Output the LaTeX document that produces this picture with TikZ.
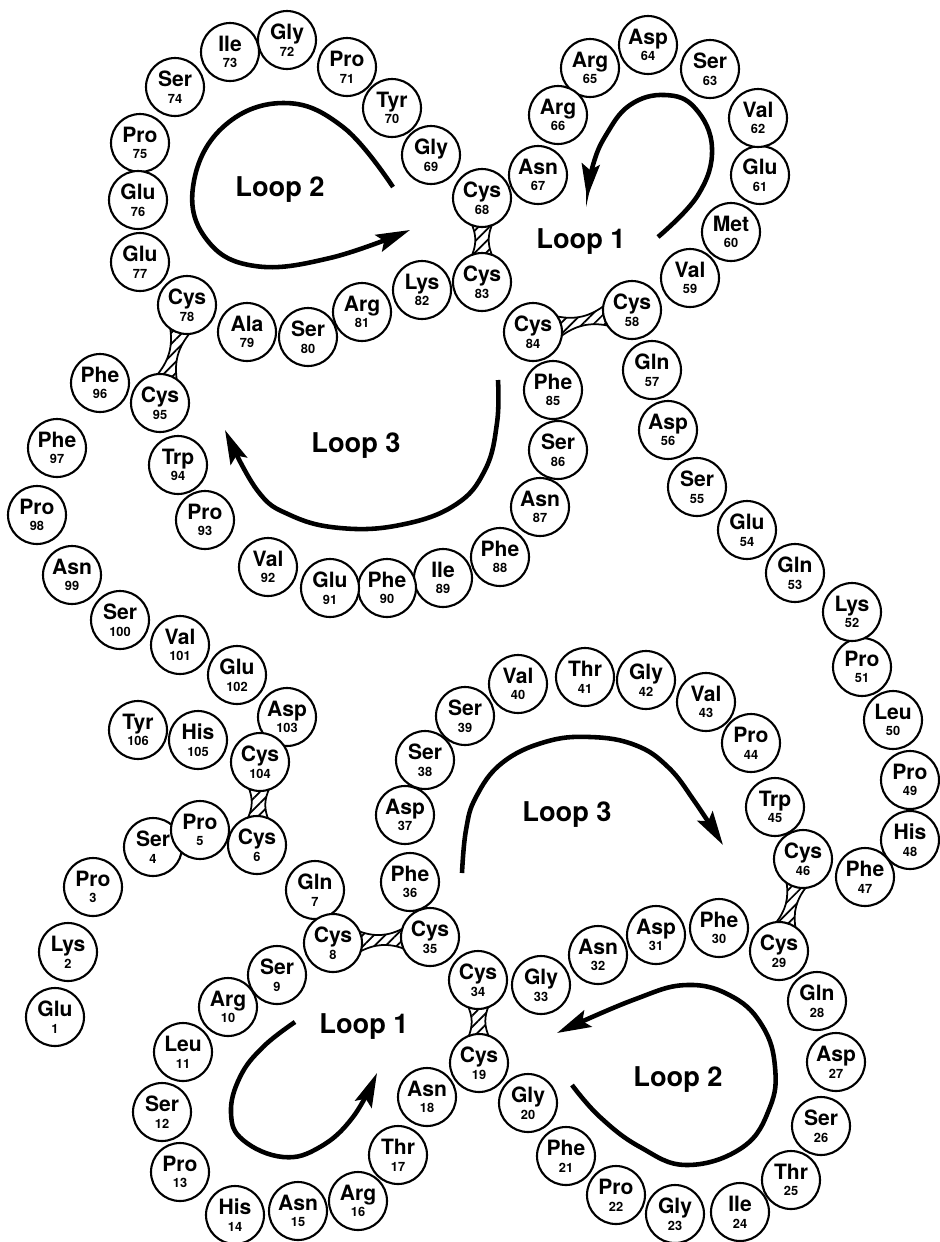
\documentclass[tikz,border=0pt]{standalone}
\usepackage{fontspec}
\setmainfont{TeX Gyre Heros}
\usetikzlibrary{calc,arrows.meta,patterns.meta}
\pgfdeclarelayer{background}
\pgfsetlayers{background,main}

%residue text: name over number
\newcommand{\rn}[2]{#1\\{\fontsize{7.3}{9.5}\selectfont #2}}
%disulfide bridge between two residues
\newcommand{\ssbond}[2]{%
  \draw[bond] ($(#1)!0.54cm!24:(#2)$) to[bend right=25] ($(#2)!0.54cm!-24:(#1)$)
    -- ($(#2)!0.54cm!24:(#1)$) to[bend right=25] ($(#1)!0.54cm!-24:(#2)$) -- cycle;}

\begin{document}
\begin{tikzpicture}
[x=0.02cm,y=-0.02cm,
res/.style={draw,circle,line width=1.2pt,fill=white,minimum size=1.16cm,inner sep=0pt,align=center,font=\bfseries\fontsize{12}{9.5}\selectfont},
bond/.style={line width=1pt,pattern={Lines[angle=45,distance=4.5pt,line width=1pt]}},
looparrow/.style={line width=2.6pt,-{Stealth[length=0.68cm,width=0.36cm,inset=0.12cm]}},
looplabel/.style={font=\bfseries\fontsize{15.5}{15.5}\selectfont},]

\useasboundingbox (0,0) rectangle (940,1242);

%Residues 1-35
\node (r1) at (55,1017)[res] {\rn{Glu}{1}};
\node (r2) at (68,952)[res] {\rn{Lys}{2}};
\node (r3) at (93,887)[res] {\rn{Pro}{3}};
\node (r4) at (153,847)[res] {\rn{Ser}{4}};
\node (r5) at (200,830)[res] {\rn{Pro}{5}};
\node (r6) at (257,845)[res] {\rn{Cys}{6}};
\node (r7) at (315,890)[res] {\rn{Gln}{7}};
\node (r8) at (333,943)[res] {\rn{Cys}{8}};
\node (r9) at (277,975)[res] {\rn{Ser}{9}};
\node (r10) at (228,1007)[res] {\rn{Arg}{10}};
\node (r11) at (183,1052)[res] {\rn{Leu}{11}};
\node (r12) at (162,1112)[res] {\rn{Ser}{12}};
\node (r13) at (180,1172)[res] {\rn{Pro}{13}};
\node (r14) at (235,1215)[res] {\rn{His}{14}};
\node (r15) at (298,1211)[res] {\rn{Asn}{15}};
\node (r16) at (358,1201)[res] {\rn{Arg}{16}};
\node (r17) at (398,1155)[res] {\rn{Thr}{17}};
\node (r18) at (427,1097)[res] {\rn{Asn}{18}};
\node (r19) at (479,1063)[res] {\rn{Cys}{19}};
\node (r20) at (528,1103)[res] {\rn{Gly}{20}};
\node (r21) at (566,1156)[res] {\rn{Phe}{21}};
\node (r22) at (616,1195)[res] {\rn{Pro}{22}};
\node (r23) at (675,1214)[res] {\rn{Gly}{23}};
\node (r24) at (740,1212)[res] {\rn{Ile}{24}};
\node (r25) at (791,1180)[res] {\rn{Thr}{25}};
\node (r26) at (821,1126)[res] {\rn{Ser}{26}};
\node (r27) at (836,1062)[res] {\rn{Asp}{27}};
\node (r28) at (817,1001)[res] {\rn{Gln}{28}};
\node (r29) at (779,951)[res] {\rn{Cys}{29}};
\node (r30) at (719,928)[res] {\rn{Phe}{30}};
\node (r31) at (656,935)[res] {\rn{Asp}{31}};
\node (r32) at (598,955)[res] {\rn{Asn}{32}};
\node (r33) at (541,985)[res] {\rn{Gly}{33}};
\node (r34) at (478,980)[res] {\rn{Cys}{34}};
\node (r35) at (430,937)[res] {\rn{Cys}{35}};

%Residues 36-70
\node (r36) at (410,882)[res] {\rn{Phe}{36}};
\node (r37) at (405,815)[res] {\rn{Asp}{37}};
\node (r38) at (425,760)[res] {\rn{Ser}{38}};
\node (r39) at (465,716)[res] {\rn{Ser}{39}};
\node (r40) at (518,684)[res] {\rn{Val}{40}};
\node (r41) at (585,677)[res] {\rn{Thr}{41}};
\node (r42) at (646,680)[res] {\rn{Gly}{42}};
\node (r43) at (706,702)[res] {\rn{Val}{43}};
\node (r44) at (751,743)[res] {\rn{Pro}{44}};
\node (r45) at (775,807)[res] {\rn{Trp}{45}};
\node (r46) at (803,859)[res] {\rn{Cys}{46}};
\node (r47) at (865,877)[res] {\rn{Phe}{47}};
\node (r48) at (910,840)[res] {\rn{His}{48}};
\node (r49) at (910,780)[res] {\rn{Pro}{49}};
\node (r50) at (893,720)[res] {\rn{Leu}{50}};
\node (r51) at (862,667)[res] {\rn{Pro}{51}};
\node (r52) at (852,612)[res] {\rn{Lys}{52}};
\node (r53) at (795,573)[res] {\rn{Gln}{53}};
\node (r54) at (747,530)[res] {\rn{Glu}{54}};
\node (r55) at (697,487)[res] {\rn{Ser}{55}};
\node (r56) at (668,430)[res] {\rn{Asp}{56}};
\node (r57) at (652,370)[res] {\rn{Gln}{57}};
\node (r58) at (632,310)[res] {\rn{Cys}{58}};
\node (r59) at (690,278)[res] {\rn{Val}{59}};
\node (r60) at (731,232)[res] {\rn{Met}{60}};
\node (r61) at (760,175)[res] {\rn{Glu}{61}};
\node (r62) at (758,118)[res] {\rn{Val}{62}};
\node (r63) at (710,69)[res] {\rn{Ser}{63}};
\node (r64) at (648,45)[res] {\rn{Asp}{64}};
\node (r65) at (590,68)[res] {\rn{Arg}{65}};
\node (r66) at (558,115)[res] {\rn{Arg}{66}};
\node (r67) at (538,175)[res] {\rn{Asn}{67}};
\node (r68) at (482,198)[res] {\rn{Cys}{68}};
\node (r69) at (431,155)[res] {\rn{Gly}{69}};
\node (r70) at (392,108)[res] {\rn{Tyr}{70}};

%Residues 71-106
\node (r71) at (347,67)[res] {\rn{Pro}{71}};
\node (r72) at (287,40)[res] {\rn{Gly}{72}};
\node (r73) at (230,52)[res] {\rn{Ile}{73}};
\node (r74) at (175,87)[res] {\rn{Ser}{74}};
\node (r75) at (140,143)[res] {\rn{Pro}{75}};
\node (r76) at (138,200)[res] {\rn{Glu}{76}};
\node (r77) at (140,262)[res] {\rn{Glu}{77}};
\node (r78) at (187,305)[res] {\rn{Cys}{78}};
\node (r79) at (247,332)[res] {\rn{Ala}{79}};
\node (r80) at (308,337)[res] {\rn{Ser}{80}};
\node (r81) at (362,312)[res] {\rn{Arg}{81}};
\node (r82) at (422,290)[res] {\rn{Lys}{82}};
\node (r83) at (482,282)[res] {\rn{Cys}{83}};
\node (r84) at (533,332)[res] {\rn{Cys}{84}};
\node (r85) at (553,390)[res] {\rn{Phe}{85}};
\node (r86) at (558,450)[res] {\rn{Ser}{86}};
\node (r87) at (540,507)[res] {\rn{Asn}{87}};
\node (r88) at (500,557)[res] {\rn{Phe}{88}};
\node (r89) at (443,578)[res] {\rn{Ile}{89}};
\node (r90) at (387,588)[res] {\rn{Phe}{90}};
\node (r91) at (330,588)[res] {\rn{Glu}{91}};
\node (r92) at (268,567)[res] {\rn{Val}{92}};
\node (r93) at (205,520)[res] {\rn{Pro}{93}};
\node (r94) at (178,465)[res] {\rn{Trp}{94}};
\node (r95) at (160,403)[res] {\rn{Cys}{95}};
\node (r96) at (100,383)[res] {\rn{Phe}{96}};
\node (r97) at (57,448)[res] {\rn{Phe}{97}};
\node (r98) at (37,515)[res] {\rn{Pro}{98}};
\node (r99) at (72,575)[res] {\rn{Asn}{99}};
\node (r100) at (120,620)[res] {\rn{Ser}{100}};
\node (r101) at (180,645)[res] {\rn{Val}{101}};
\node (r102) at (237,675)[res] {\rn{Glu}{102}};
\node (r103) at (287,717)[res] {\rn{Asp}{103}};
\node (r104) at (260,762)[res] {\rn{Cys}{104}};
\node (r105) at (198,740)[res] {\rn{His}{105}};
\node (r106) at (138,730)[res] {\rn{Tyr}{106}};

%Disulfide bridges
\begin{pgfonlayer}{background}
\ssbond{r68}{r83}
\ssbond{r84}{r58}
\ssbond{r78}{r95}
\ssbond{r104}{r6}
\ssbond{r8}{r35}
\ssbond{r34}{r19}
\ssbond{r46}{r29}
\end{pgfonlayer}

%Loop labels
\node (l2a) at (280,190)[looplabel] {Loop 2};
\node (l1a) at (581,242)[looplabel] {Loop 1};
\node (l3a) at (356,446)[looplabel] {Loop 3};
\node (l3b) at (567,815)[looplabel] {Loop 3};
\node (l1b) at (364,1027)[looplabel] {Loop 1};
\node (l2b) at (678,1080)[looplabel] {Loop 2};

%Loop arrows
\draw[looparrow] plot[smooth,tension=0.7] coordinates {(393,187) (343,127) (283,103) (222,128) (193,187) (207,240) (255,266) (330,258) (410,230)};
\draw[looparrow] plot[smooth,tension=0.7] coordinates {(658,237) (698,195) (712,148) (695,108) (665,95) (630,105) (606,135) (593,165) (587,198)};
\draw[looparrow] plot[smooth,tension=0.7] coordinates {(498,380) (497,423) (485,470) (455,505) (400,525) (340,528) (290,515) (257,490) (225,430)};
\draw[looparrow] plot[smooth,tension=0.7] coordinates {(462,873) (466,830) (476,797) (502,763) (545,742) (590,737) (635,745) (668,767) (695,802) (723,845)};
\draw[looparrow] plot[smooth,tension=0.7] coordinates {(295,1022) (263,1047) (240,1077) (231,1113) (243,1140) (283,1157) (320,1147) (353,1117) (377,1073)};
\draw[looparrow] plot[smooth,tension=0.7] coordinates {(572,1085) (600,1117) (640,1147) (687,1165) (743,1147) (770,1107) (775,1067) (763,1027) (733,997) (687,985) (633,1000) (557,1033)};

\end{tikzpicture}
\end{document}
